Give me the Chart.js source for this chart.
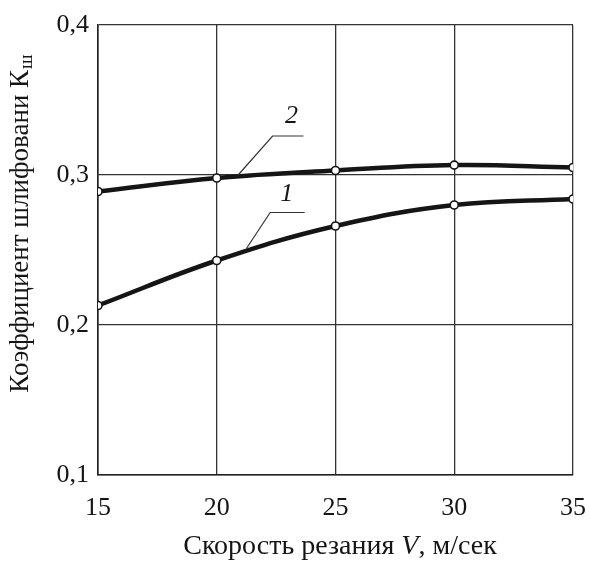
<!DOCTYPE html>
<html>
<head>
<meta charset="utf-8">
<script src="https://cdn.jsdelivr.net/npm/chart.js@4"></script>
<style>
  html, body { margin: 0; padding: 0; background: #fff; }
  #wrap { width: 590px; height: 567px; }
</style>
</head>
<body>
<div id="wrap"><canvas id="c" width="590" height="567"></canvas></div>
<script>
// cutting speed V, m/s
const speeds = [15, 20, 25, 30, 35];
// grinding coefficient, curve 1 and curve 2
const curve1 = [0.213, 0.243, 0.266, 0.280, 0.284];
const curve2 = [0.289, 0.298, 0.303, 0.3066, 0.305];
const yTicks = [0.1, 0.2, 0.3, 0.4];

const FONT = '"Liberation Serif", "DejaVu Serif", serif';
const INK = '#151515';

function toPoints(vals) {
  return speeds.map((s, i) => ({ x: s, y: vals[i] }));
}

function lineSet(vals) {
  return {
    data: toPoints(vals),
    borderColor: INK,
    borderWidth: 4.5,
    tension: 0.4,
    pointRadius: 4,
    pointBackgroundColor: '#fff',
    pointBorderColor: INK,
    pointBorderWidth: 1.6,
  };
}

// curve numbers with leader lines, in data coords
const callouts = [
  { text: '1', line: [[21.25, 0.251], [22.25, 0.275], [23.7, 0.275]], at: [22.95, 0.287] },
  { text: '2', line: [[20.9, 0.300], [22.35, 0.326], [23.65, 0.326]], at: [23.15, 0.339] },
];

const extras = {
  id: 'extras',
  afterDatasetsDraw(chart) {
    const { ctx, scales: { x, y } } = chart;
    ctx.save();
    ctx.strokeStyle = '#333';
    ctx.lineWidth = 1.2;
    ctx.fillStyle = INK;
    ctx.font = 'italic 26px ' + FONT;
    ctx.textAlign = 'center';
    ctx.textBaseline = 'middle';
    callouts.forEach(c => {
      ctx.beginPath();
      c.line.forEach((p, i) => {
        const px = x.getPixelForValue(p[0]), py = y.getPixelForValue(p[1]);
        if (i === 0) ctx.moveTo(px, py); else ctx.lineTo(px, py);
      });
      ctx.stroke();
      ctx.fillText(c.text, x.getPixelForValue(c.at[0]), y.getPixelForValue(c.at[1]));
    });
    ctx.restore();

    // x title, V in italics
    ctx.save();
    ctx.fillStyle = INK;
    ctx.textBaseline = 'middle';
    ctx.textAlign = 'left';
    const parts = [['Скорость резания ', ''], ['V', 'italic '], [', м/сек', '']];
    let total = 0;
    parts.forEach(p => { ctx.font = p[1] + '28px ' + FONT; total += ctx.measureText(p[0]).width; });
    let cx = 340 - total / 2;
    parts.forEach(p => {
      ctx.font = p[1] + '28px ' + FONT;
      ctx.fillText(p[0], cx, 547);
      cx += ctx.measureText(p[0]).width;
    });
    ctx.restore();

    // y title with subscript
    ctx.save();
    ctx.translate(21, 224);
    ctx.rotate(-Math.PI / 2);
    ctx.fillStyle = INK;
    ctx.textBaseline = 'middle';
    ctx.textAlign = 'left';
    const main = 'Коэффициент шлифовани К';
    ctx.font = '27px ' + FONT;
    const w1 = ctx.measureText(main).width;
    ctx.font = '19px ' + FONT;
    const w2 = ctx.measureText('ш').width;
    const start = -(w1 + w2) / 2;
    ctx.font = '27px ' + FONT;
    ctx.fillText(main, start, 0);
    ctx.font = '19px ' + FONT;
    ctx.fillText('ш', start + w1 + 1, 6);
    ctx.restore();
  }
};

new Chart(document.getElementById('c'), {
  type: 'line',
  data: { datasets: [lineSet(curve1), lineSet(curve2)] },
  options: {
    responsive: false,
    animation: false,
    layout: { padding: { left: 0, right: 0, top: 25, bottom: 0 } },
    plugins: { legend: { display: false }, tooltip: { enabled: false } },
    scales: {
      x: {
        type: 'linear',
        min: 15,
        max: 35,
        afterFit(scale) {
          scale.height = 92;
          scale.paddingLeft = 0;
          scale.paddingRight = 17;
        },
        ticks: {
          stepSize: 5,
          color: INK,
          font: { family: FONT, size: 26 },
          padding: 18,
          maxRotation: 0,
        },
        grid: { color: '#333', lineWidth: 1.3, drawTicks: false },
        border: { color: '#222', width: 1.6 },
      },
      y: {
        min: 0.1,
        max: 0.4,
        afterFit(scale) {
          scale.width = 98;
          scale.paddingTop = 0;
          scale.paddingBottom = 0;
        },
        afterBuildTicks(scale) { scale.ticks = yTicks.map(v => ({ value: v })); },
        ticks: {
          color: INK,
          font: { family: FONT, size: 26 },
          padding: 9,
          callback: v => v.toFixed(1).replace('.', ','),
        },
        grid: { color: '#333', lineWidth: 1.3, drawTicks: false },
        border: { color: '#222', width: 1.6 },
      },
    },
  },
  plugins: [extras],
});
</script>
</body>
</html>
